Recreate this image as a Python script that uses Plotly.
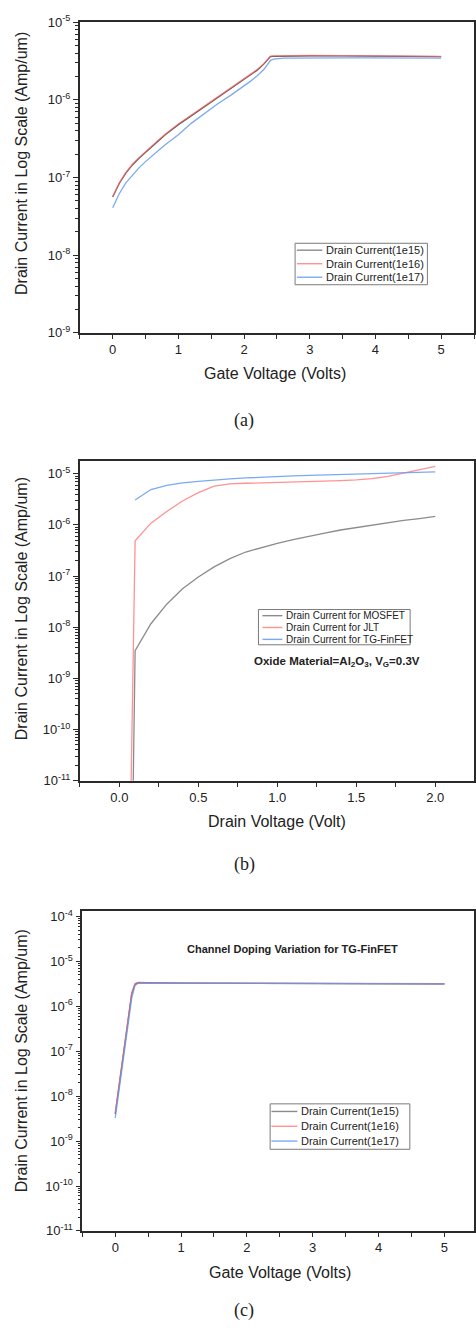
import plotly.graph_objects as go

# ---------------- data ----------------
# Panel (a): gate voltage sweep
xa = [0, 0.1, 0.2, 0.3, 0.4, 0.5, 0.6, 0.7, 0.8, 0.9, 1.0, 1.2, 1.4, 1.6, 1.8, 2.0, 2.1, 2.2, 2.3, 2.4, 2.45, 2.6, 3.0, 3.5, 4.0, 4.5, 5.0]
a_1e16 = [5.70e-8, 8.51e-8, 1.16e-7, 1.48e-7, 1.80e-7, 2.16e-7, 2.58e-7, 3.06e-7, 3.61e-7, 4.21e-7, 4.88e-7,
          6.38e-7, 8.32e-7, 1.08e-6, 1.41e-6, 1.84e-6, 2.11e-6, 2.45e-6, 2.92e-6, 3.66e-6, 3.67e-6,
          3.70e-6, 3.72e-6, 3.71e-6, 3.68e-6, 3.66e-6, 3.63e-6]
a_1e15 = [5.60e-8, 8.36e-8, 1.14e-7, 1.45e-7, 1.77e-7, 2.12e-7, 2.53e-7, 3.00e-7, 3.54e-7, 4.13e-7, 4.79e-7,
          6.26e-7, 8.17e-7, 1.06e-6, 1.39e-6, 1.81e-6, 2.08e-6, 2.41e-6, 2.88e-6, 3.60e-6, 3.63e-6,
          3.66e-6, 3.69e-6, 3.68e-6, 3.65e-6, 3.63e-6, 3.60e-6]
a_1e17 = [4.07e-8, 6.17e-8, 8.51e-8, 1.08e-7, 1.33e-7, 1.60e-7, 1.91e-7, 2.24e-7, 2.63e-7, 3.05e-7, 3.55e-7,
          5.01e-7, 6.76e-7, 8.91e-7, 1.15e-6, 1.51e-6, 1.74e-6, 2.04e-6, 2.45e-6, 3.20e-6, 3.35e-6,
          3.45e-6, 3.48e-6, 3.47e-6, 3.46e-6, 3.45e-6, 3.43e-6]

# Panel (b): drain voltage sweep (Oxide Al2O3, VG = 0.3 V)
xb = [0.0, 0.1, 0.2, 0.3, 0.4, 0.5, 0.6, 0.7, 0.8, 0.9, 1.0, 1.1, 1.2, 1.3, 1.4, 1.5, 1.6, 1.7, 1.8, 1.9, 2.0]
b_mosfet = [1e-30, 3.47e-9, 1.17e-8, 2.82e-8, 5.62e-8, 9.55e-8, 1.51e-7, 2.19e-7, 2.95e-7, 3.63e-7, 4.37e-7,
            5.13e-7, 6.03e-7, 6.92e-7, 7.94e-7, 8.91e-7, 9.89e-7, 1.10e-6, 1.22e-6, 1.33e-6, 1.46e-6]
b_jlt = [1e-25, 4.9e-7, 1.08e-6, 1.82e-6, 2.93e-6, 4.27e-6, 5.7e-6, 6.3e-6, 6.5e-6, 6.6e-6, 6.75e-6,
         6.85e-6, 6.95e-6, 7.1e-6, 7.3e-6, 7.55e-6, 8.0e-6, 8.9e-6, 1.03e-5, 1.2e-5, 1.39e-5]
b_tgfinfet = [None, 3.06e-6, 4.9e-6, 5.9e-6, 6.6e-6, 7.1e-6, 7.6e-6, 7.95e-6, 8.25e-6, 8.6e-6, 8.9e-6,
              9.1e-6, 9.3e-6, 9.5e-6, 9.7e-6, 9.85e-6, 1.0e-5, 1.02e-5, 1.05e-5, 1.07e-5, 1.09e-5]

# Panel (c): channel doping variation for TG-FinFET
xc = [0, 0.05, 0.1, 0.15, 0.2, 0.25, 0.3, 0.35, 0.4, 0.5, 1.0, 2.0, 3.0, 4.0, 5.0]
c_1e15 = [4.0e-9, 1.4e-8, 5.2e-8, 1.9e-7, 6.5e-7, 1.9e-6, 3.1e-6, 3.35e-6, 3.35e-6, 3.33e-6, 3.3e-6, 3.25e-6, 3.22e-6, 3.2e-6, 3.17e-6]
c_1e16 = [4.3e-9, 1.5e-8, 5.5e-8, 2.0e-7, 7.0e-7, 2.0e-6, 3.2e-6, 3.4e-6, 3.4e-6, 3.36e-6, 3.32e-6, 3.27e-6, 3.24e-6, 3.21e-6, 3.18e-6]
c_1e17 = [3.3e-9, 1.1e-8, 4.0e-8, 1.4e-7, 5.0e-7, 1.5e-6, 2.9e-6, 3.25e-6, 3.3e-6, 3.3e-6, 3.28e-6, 3.24e-6, 3.21e-6, 3.19e-6, 3.16e-6]

names_doping = ["Drain Current(1e15)", "Drain Current(1e16)", "Drain Current(1e17)"]
names_device = ["Drain Current for MOSFET", "Drain Current for JLT", "Drain Current for TG-FinFET"]

ytick_a = [-9, -8, -7, -6, -5]
ytick_b = [-11, -10, -9, -8, -7, -6, -5]
ytick_c = [-11, -10, -9, -8, -7, -6, -5, -4]

# ---------------- style ----------------
W, H = 476, 1333
BLACK = "rgba(70,70,70,0.95)"
GRAY = "rgba(110,110,110,0.8)"
RED = "rgba(255,110,110,0.75)"
BLUE = "rgba(100,155,240,0.85)"
FONT = "Liberation Sans, Arial, sans-serif"
SERIF = "Liberation Serif, Times New Roman, serif"
AX = "#2a2a2a"


def py(px):
    return 1 - px / H


def px_x(px):
    return px / W


fig = go.Figure()


def add(x, y, name, color, xa_, ya_):
    fig.add_trace(go.Scatter(x=x, y=y, name=name, mode="lines",
                             line=dict(color=color, width=1.3),
                             xaxis=xa_, yaxis=ya_, showlegend=False,
                             connectgaps=False))


add(xa, a_1e15, names_doping[0], BLACK, "x", "y")
add(xa, a_1e16, names_doping[1], RED, "x", "y")
add(xa, a_1e17, names_doping[2], BLUE, "x", "y")

add(xb, b_mosfet, names_device[0], GRAY, "x2", "y2")
add(xb, b_jlt, names_device[1], RED, "x2", "y2")
add(xb, b_tgfinfet, names_device[2], BLUE, "x2", "y2")

add(xc, c_1e15, names_doping[0], BLACK, "x3", "y3")
add(xc, c_1e16, names_doping[1], RED, "x3", "y3")
add(xc, c_1e17, names_doping[2], BLUE, "x3", "y3")


def minor_vals(lo, hi):
    out = []
    for e in range(lo, hi):
        for m in range(2, 10):
            out.append(m * 10.0 ** e)
    return out


def yaxis(dom, exps, rng, anchor):
    return dict(domain=dom, type="log", range=rng, anchor=anchor,
                tickmode="array", tickvals=[10.0 ** e for e in exps],
                ticktext=["10<sup>%d</sup>" % e for e in exps],
                ticks="outside", ticklen=5, tickwidth=1.3, tickcolor=AX,
                minor=dict(tickmode="array", tickvals=minor_vals(exps[0], exps[-1] + 1),
                           ticks="outside", ticklen=3, tickwidth=1, tickcolor=AX),
                showline=True, linecolor=AX, linewidth=1.6, mirror=True,
                showgrid=False, zeroline=False,
                tickfont=dict(family=FONT, size=13, color="#222"))


def xaxis(dom, rng, dtick, mdtick, anchor, fmt=None):
    d = dict(domain=dom, range=rng, anchor=anchor, dtick=dtick, tick0=0,
             ticks="outside", ticklen=4, tickwidth=1.3, tickcolor=AX,
             minor=dict(dtick=mdtick, tick0=0, ticks="outside", ticklen=4, tickwidth=1.3, tickcolor=AX),
             showline=True, linecolor=AX, linewidth=1.6, mirror=True,
             showgrid=False, zeroline=False,
             tickfont=dict(family=FONT, size=13, color="#222"))
    if fmt:
        d["tickformat"] = fmt
    return d


def top_axis(dom, rng, dtick, mdtick, overlay, anchor):
    return dict(domain=dom, range=rng, overlaying=overlay, side="top", anchor=anchor,
                dtick=dtick, tick0=0, ticks="inside", ticklen=4, tickwidth=1.3, tickcolor=AX,
                minor=dict(dtick=mdtick, tick0=0, ticks="inside", ticklen=4, tickwidth=1.3, tickcolor=AX),
                showticklabels=False, showline=False, showgrid=False, zeroline=False)


def right_axis(dom, exps, rng, overlay, anchor):
    return dict(domain=dom, type="log", range=rng, overlaying=overlay, side="right", anchor=anchor,
                tickmode="array", tickvals=[10.0 ** e for e in exps],
                ticks="inside", ticklen=5, tickwidth=1.3, tickcolor=AX,
                minor=dict(tickmode="array", tickvals=minor_vals(exps[0], exps[-1] + 1),
                           ticks="inside", ticklen=3, tickwidth=1, tickcolor=AX),
                showticklabels=False, showline=False, showgrid=False, zeroline=False)


xdom_ab = [px_x(80), px_x(475)]
xdom_c = [px_x(82.5), px_x(475)]
ydom_a = [py(328), py(13.3)]
ydom_b = [py(781.7), py(458)]
ydom_c = [py(1237.7), py(913.3)]

rng_xa = [-0.5, 5.5]
rng_xb = [-0.25, 2.245]
rng_xc = [-0.5, 5.45]
rng_ya = [-9, -5]
rng_yb = [-11, -4.755]
rng_yc = [-11, -3.87]

fig.update_layout(
    width=W, height=H, margin=dict(l=0, r=0, t=0, b=0),
    paper_bgcolor="white", plot_bgcolor="white",
    font=dict(family=FONT, color="#222"),
    xaxis=xaxis(xdom_ab, rng_xa, 1, 0.5, "y"),
    yaxis=yaxis(ydom_a, ytick_a, rng_ya, "x"),
    xaxis2=xaxis(xdom_ab, rng_xb, 0.5, 0.25, "y2", ".1f"),
    yaxis2=yaxis(ydom_b, ytick_b, rng_yb, "x2"),
    xaxis3=xaxis(xdom_c, rng_xc, 1, 0.5, "y3"),
    yaxis3=yaxis(ydom_c, ytick_c, rng_yc, "x3"),
    xaxis4=top_axis(xdom_ab, rng_xa, 1, 0.5, "x", "y"),
    xaxis5=top_axis(xdom_ab, rng_xb, 0.5, 0.25, "x2", "y2"),
    xaxis6=top_axis(xdom_c, rng_xc, 1, 0.5, "x3", "y3"),
    yaxis4=right_axis(ydom_a, ytick_a, rng_ya, "y", "x"),
    yaxis5=right_axis(ydom_b, ytick_b, rng_yb, "y2", "x2"),
    yaxis6=right_axis(ydom_c, ytick_c, rng_yc, "y3", "x3"),
    showlegend=False,
)

ann = []
shapes = []


def text(x, y, s, size, angle=0, bold=False, family=FONT, xanchor="center"):
    ann.append(dict(x=px_x(x), y=py(y), xref="paper", yref="paper", text=("<b>%s</b>" % s if bold else s),
                    showarrow=False, textangle=angle, xanchor=xanchor, yanchor="middle",
                    font=dict(family=family, size=size, color="#222")))


def legend_box(x0, x1, y0, y1, rows, line_x0, line_x1, text_x, names, colors, size):
    shapes.append(dict(type="rect", xref="paper", yref="paper",
                       x0=px_x(x0), x1=px_x(x1), y0=py(y1), y1=py(y0),
                       line=dict(color="#7a7a7a", width=1), fillcolor="white", layer="above"))
    for ry, nm, col in zip(rows, names, colors):
        shapes.append(dict(type="line", xref="paper", yref="paper",
                           x0=px_x(line_x0), x1=px_x(line_x1), y0=py(ry), y1=py(ry),
                           line=dict(color=col, width=1.4), layer="above"))
        text(text_x, ry, nm, size, xanchor="left")


legend_box(295.7, 428.3, 237.3, 279.3, [244.3, 258, 271.7], 297.5, 323, 325,
           names_doping, [GRAY, RED, BLUE], 11)
legend_box(259, 411, 608.3, 644, [614.5, 626.5, 638.5], 263, 283, 284.5,
           names_device, [GRAY, RED, BLUE], 10)
legend_box(270.7, 410.7, 1109, 1155, [1116.7, 1131.7, 1146.7], 272, 298, 300,
           names_doping, [GRAY, RED, BLUE], 11)

yt = "Drain Current in Log Scale (Amp/um)"
text(21, 156, yt, 16, -90)
text(21, 607, yt, 16, -90)
text(21, 1065, yt, 16, -90)
text(276, 369, "Gate Voltage (Volts)", 16)
text(278, 823, "Drain Voltage (Volt)", 16)
text(281, 1280, "Gate Voltage (Volts)", 16)
text(338, 661, "Oxide Material=Al<sub>2</sub>O<sub>3</sub>, V<sub>G</sub>=0.3V", 11.5, bold=True)
text(293, 952, "Channel Doping Variation for TG-FinFET", 11, bold=True)
text(245, 417, "(a)", 18, family=SERIF)
text(245, 867, "(b)", 18, family=SERIF)
text(245, 1318, "(c)", 18, family=SERIF)
fig.update_layout(annotations=ann, shapes=shapes)

fig.write_html("out.html")
